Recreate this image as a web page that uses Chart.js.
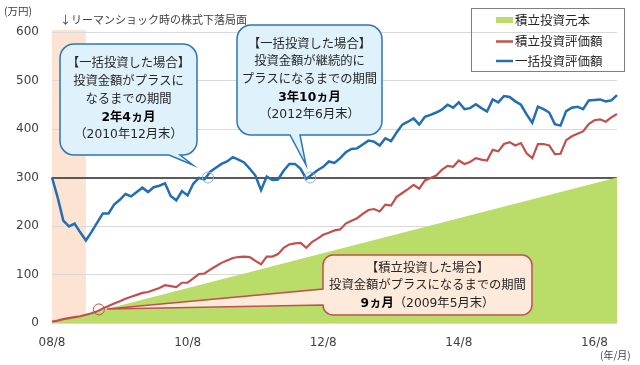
<!DOCTYPE html>
<html lang="ja">
<head>
<meta charset="utf-8">
<title>積立投資と一括投資の評価額</title>
<script src="https://cdn.jsdelivr.net/npm/chart.js@4.4.0/dist/chart.umd.min.js"></script>
<style>
  html, body { margin: 0; padding: 0; background: #fff; }
  #wrap { position: relative; width: 640px; height: 365px; }
</style>
</head>
<body>
<div id="wrap"><canvas id="chart" width="640" height="365"></canvas></div>
<script>
// month categories, 2008/8 .. 2016/12
const months = [];
for (let i = 0; i < 101; i++) {
  const m = 7 + i;
  const yy = String(8 + Math.floor(m / 12)).padStart(2, '0');
  months.push(yy + '/' + (m % 12 + 1));
}
const tickLabels = ['08/8', '10/8', '12/8', '14/8', '16/8'];

// 積立投資元本 (straight line from start to end)
const principalMonths = ['08/8', '16/12'];
const principalValues = [0, 300];

// 積立投資評価額
const tsumitateValues = [
  3, 5, 8, 10, 12, 14, 17, 20, 24, 30,
  35, 40, 45, 50, 54, 58, 62, 64, 68, 72,
  78, 76, 74, 83, 83, 92, 101, 102, 110, 117,
  124, 129, 134, 136, 137, 136, 128, 121, 137, 137,
  142, 155, 162, 164, 165, 155, 167, 174, 182, 186,
  191, 193, 205, 211, 216, 225, 233, 235, 230, 244,
  242, 260, 268, 276, 285, 277, 294, 299, 304, 316,
  324, 322, 335, 328, 332, 340, 337, 335, 357, 354,
  369, 373, 366, 371, 350, 340, 369, 369, 366, 348,
  349, 377, 385, 390, 395, 410, 418, 420, 415, 424, 431
];

// 一括投資評価額
const ikkatsuValues = [
  300, 259, 211, 199, 205, 187, 170, 188, 207, 226,
  226, 244, 254, 266, 261, 270, 279, 270, 280, 283,
  288, 262, 253, 272, 263, 287, 299, 296, 312, 320,
  328, 333, 342, 337, 331, 318, 304, 274, 302, 295,
  296, 314, 328, 328, 318, 297, 306, 315, 322, 333,
  330, 340, 352, 359, 360, 368, 376, 374, 366, 381,
  375, 393, 409, 415, 422, 409, 425, 429, 434, 440,
  450, 444, 455, 441, 443, 451, 443, 436, 461, 455,
  468, 466, 457, 450, 430, 413, 446, 441, 434, 410,
  407, 437, 444, 446, 441, 459, 460, 461, 457, 459, 470
];

const crashPeriod = ['08/8', '09/2'];
const breakEvenLine = 300;

const cjk = '"Noto Sans CJK JP", sans-serif';
const latin = '"DejaVu Sans", "Noto Sans CJK JP", sans-serif';

const bubbles = [
  {
    x: 60, y: 44, w: 137, h: 111, r: 14,
    fill: '#dff2fb', stroke: '#2e75b6',
    tail: { side: 'bottom', b1: 169, b2: 180, tipX: 193, tipY: 165 },
    cx: 128.5, lineY: [64, 82, 100, 117.5, 135],
    lines: [
      [['【一括投資した場合】', false]],
      [['投資金額がプラスに', false]],
      [['なるまでの期間', false]],
      [['2年4ヵ月', true]],
      [['（2010年12月末）', false]]
    ]
  },
  {
    x: 237, y: 25, w: 145, h: 110, r: 14,
    fill: '#dff2fb', stroke: '#2e75b6',
    tail: { side: 'bottom', b1: 290, b2: 300, tipX: 306, tipY: 165 },
    cx: 309.5, lineY: [45, 62, 80, 97.5, 115],
    lines: [
      [['【一括投資した場合】', false]],
      [['投資金額が継続的に', false]],
      [['プラスになるまでの期間', false]],
      [['3年10ヵ月', true]],
      [['（2012年6月末）', false]]
    ]
  },
  {
    x: 323, y: 255, w: 209, h: 60, r: 10,
    fill: '#fdeadb', stroke: '#c0504d',
    tail: { side: 'left', b1: 289, b2: 305, tipX: 107, tipY: 309 },
    cx: 427.5, lineY: [268.5, 286, 303.5],
    lines: [
      [['【積立投資した場合】', false]],
      [['投資金額がプラスになるまでの期間', false]],
      [['9ヵ月', true], ['（2009年5月末）', false]]
    ]
  }
];

// crossing markers: [category index, value, colour]
const markers = [
  [27.6, 300, '#8db3d3'],
  [45.7, 300, '#8db3d3'],
  [8.3, 28, '#c0504d']
];

function bubblePath(ctx, b) {
  const { x, y, w, h, r, tail } = b;
  ctx.beginPath();
  ctx.moveTo(x + r, y);
  ctx.lineTo(x + w - r, y);
  ctx.arcTo(x + w, y, x + w, y + r, r);
  ctx.lineTo(x + w, y + h - r);
  ctx.arcTo(x + w, y + h, x + w - r, y + h, r);
  if (tail.side === 'bottom') {
    ctx.lineTo(tail.b2, y + h);
    ctx.lineTo(tail.tipX, tail.tipY);
    ctx.lineTo(tail.b1, y + h);
  }
  ctx.lineTo(x + r, y + h);
  ctx.arcTo(x, y + h, x, y + h - r, r);
  if (tail.side === 'left') {
    ctx.lineTo(x, tail.b2);
    ctx.lineTo(tail.tipX, tail.tipY);
    ctx.lineTo(x, tail.b1);
  }
  ctx.lineTo(x, y + r);
  ctx.arcTo(x, y, x + r, y, r);
  ctx.closePath();
}

function fontFor(bold) {
  return (bold ? 'bold ' : '') + '12.3px ' + latin;
}

function drawBubble(ctx, b) {
  ctx.save();
  bubblePath(ctx, b);
  ctx.fillStyle = b.fill;
  ctx.fill();
  ctx.lineWidth = 1.5;
  ctx.strokeStyle = b.stroke;
  ctx.stroke();
  ctx.textBaseline = 'middle';
  ctx.textAlign = 'left';
  b.lines.forEach((segs, i) => {
    let total = 0;
    segs.forEach(s => { ctx.font = fontFor(s[1]); total += ctx.measureText(s[0]).width; });
    let tx = b.cx - total / 2;
    segs.forEach(s => {
      ctx.font = fontFor(s[1]);
      ctx.fillStyle = s[1] ? '#000' : '#262626';
      ctx.fillText(s[0], tx, b.lineY[i]);
      tx += ctx.measureText(s[0]).width;
    });
  });
  ctx.restore();
}

const decorations = {
  id: 'decorations',
  beforeDraw(chart) {
    const { ctx, chartArea, scales } = chart;
    ctx.save();
    ctx.fillStyle = '#fff';
    ctx.fillRect(0, 0, chart.width, chart.height);
    const x0 = scales.x.getPixelForValue(months.indexOf(crashPeriod[0]));
    const x1 = scales.x.getPixelForValue(months.indexOf(crashPeriod[1]));
    ctx.fillStyle = '#fde4d2';
    ctx.fillRect(x0, chartArea.top - 2, x1 - x0, chartArea.bottom - chartArea.top + 2);
    ctx.restore();
  },
  afterDatasetsDraw(chart) {
    const { ctx, scales } = chart;
    ctx.save();
    // crossing markers
    markers.forEach(m => {
      ctx.beginPath();
      ctx.arc(scales.x.getPixelForValue(m[0]), scales.y.getPixelForValue(m[1]), 5.5, 0, Math.PI * 2);
      ctx.lineWidth = 1;
      ctx.strokeStyle = m[2];
      ctx.stroke();
    });
    bubbles.forEach(b => drawBubble(ctx, b));

    // legend
    ctx.strokeStyle = '#7f7f7f';
    ctx.lineWidth = 1;
    ctx.strokeRect(471.5, 8.5, 153, 63);
    ctx.fillStyle = '#badc68';
    ctx.fillRect(496, 17, 17, 6);
    ctx.lineWidth = 2.5;
    ctx.strokeStyle = '#c0504d';
    ctx.beginPath(); ctx.moveTo(496, 41.5); ctx.lineTo(513, 41.5); ctx.stroke();
    ctx.strokeStyle = '#236db3';
    ctx.beginPath(); ctx.moveTo(496, 61); ctx.lineTo(513, 61); ctx.stroke();
    ctx.font = '12.5px ' + cjk;
    ctx.fillStyle = '#262626';
    ctx.textBaseline = 'middle';
    ctx.fillText('積立投資元本', 515, 20);
    ctx.fillText('積立投資評価額', 515, 41.5);
    ctx.fillText('一括投資評価額', 515, 61);

    // texts
    ctx.font = '11px ' + cjk;
    ctx.fillStyle = '#404040';
    ctx.fillText('↓リーマンショック時の株式下落局面', 60, 20);
    ctx.font = '10.5px ' + cjk;
    ctx.fillText('(万円)', 4, 11);
    ctx.font = '10px ' + cjk;
    ctx.fillText('(年/月)', 600, 355);
    ctx.restore();
  }
};

new Chart(document.getElementById('chart'), {
  type: 'line',
  data: {
    labels: months,
    datasets: [
      {
        label: '一括投資評価額',
        data: ikkatsuValues,
        borderColor: '#236db3',
        borderWidth: 2.5,
        pointRadius: 0,
        fill: false
      },
      {
        label: '積立投資評価額',
        data: tsumitateValues,
        borderColor: '#c0504d',
        borderWidth: 2.2,
        pointRadius: 0,
        fill: false
      },
      {
        label: '積立投資元本',
        data: principalMonths.map((m, i) => ({ x: m, y: principalValues[i] })),
        borderWidth: 0,
        borderColor: 'rgba(0,0,0,0)',
        backgroundColor: '#badc68',
        pointRadius: 0,
        fill: 'origin'
      }
    ]
  },
  options: {
    responsive: false,
    animation: false,
    devicePixelRatio: 1,
    layout: { padding: { top: 32, right: 23, left: 0, bottom: 0 } },
    plugins: { legend: { display: false }, tooltip: { enabled: false } },
    scales: {
      x: {
        grid: { display: false },
        border: { display: false },
        afterFit: s => { s.height = 42; },
        ticks: {
          autoSkip: false,
          maxRotation: 0,
          padding: 5,
          color: '#404040',
          font: { family: latin, size: 12 },
          callback: (v) => tickLabels.includes(months[v]) ? months[v] : ''
        }
      },
      y: {
        min: 0,
        max: 600,
        afterFit: s => { s.width = 52; },
        border: { display: false },
        grid: {
          drawTicks: false,
          color: c => c.tick.value === breakEvenLine ? '#595959' : '#d9d9d9',
          lineWidth: c => c.tick.value === breakEvenLine ? 2 : 1
        },
        ticks: {
          stepSize: 100,
          padding: 13,
          color: '#404040',
          font: { family: latin, size: 12 }
        }
      }
    }
  },
  plugins: [decorations]
});
</script>
</body>
</html>
